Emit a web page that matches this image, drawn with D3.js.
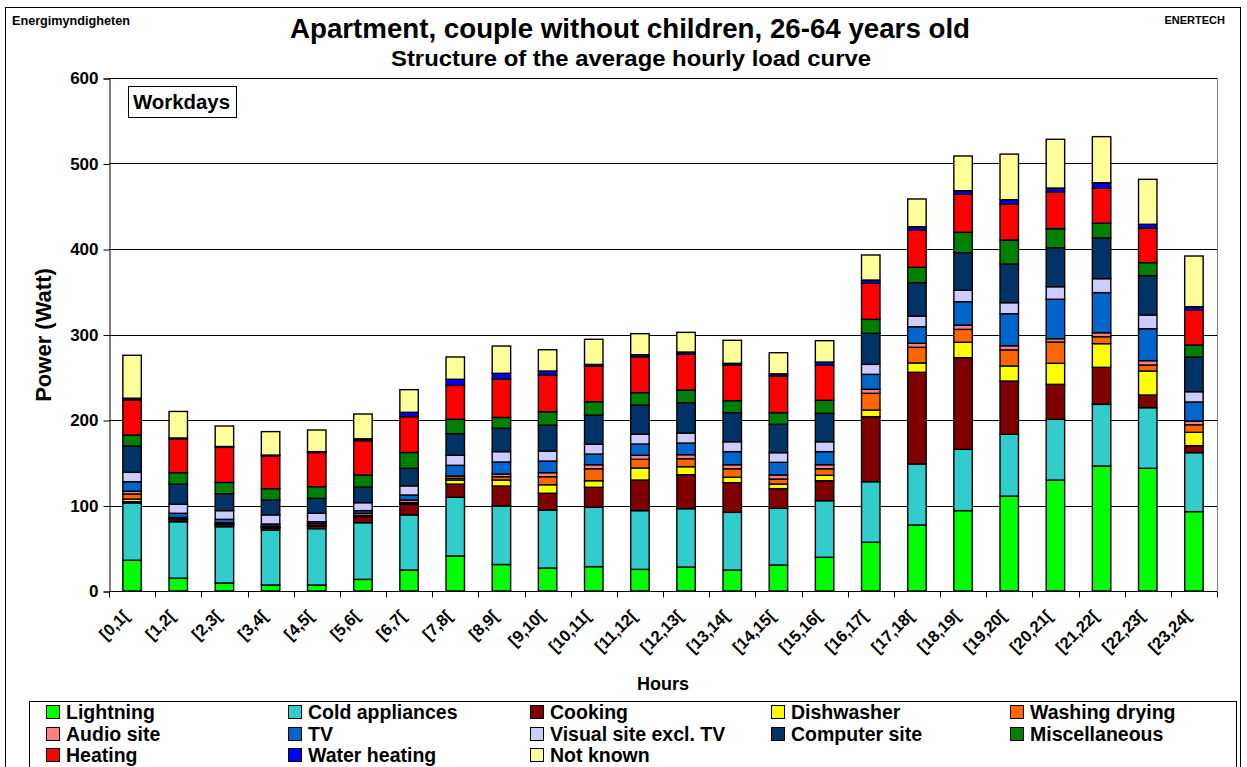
<!DOCTYPE html>
<html><head><meta charset="utf-8">
<script src="https://cdn.jsdelivr.net/npm/d3@7"></script>
<style>
html,body{margin:0;padding:0;background:#fff;}
text{font-family:"Liberation Sans",Arial,sans-serif;font-weight:bold;fill:#000;}
</style></head>
<body>
<svg id="chart" width="1247" height="767"></svg>
<script>
const categories = ["[0,1[","[1,2[","[2,3[","[3,4[","[4,5[","[5,6[","[6,7[","[7,8[","[8,9[","[9,10[","[10,11[","[11,12[","[12,13[","[13,14[","[14,15[","[15,16[","[16,17[","[17,18[","[18,19[","[19,20[","[20,21[","[21,22[","[22,23[","[23,24["];

const lightning  = [36, 15, 9.4, 7, 7, 13.6, 24.6, 41, 31, 26.9, 28.5, 25.3, 28, 24.6, 30.4, 39.4, 57, 77.2, 94, 111, 129.8, 146.2, 143.5, 92.8];
const coldAppliances = [67, 66, 65.8, 64.3, 65.9, 66.3, 64.3, 68.6, 68.4, 67.8, 69.4, 68.7, 68.3, 67.4, 66.3, 66.2, 70.8, 71.3, 71.7, 72.3, 71, 72.1, 70.9, 69];
const cooking    = [1.5, 2.5, 2.5, 2.5, 3, 7.1, 12.5, 15.4, 23.4, 19.6, 23.4, 35.8, 39.7, 34.7, 23, 23.4, 76.1, 107.3, 107.2, 62.3, 40.9, 43.3, 14.8, 8.2];
const dishwasher = [3, 0.5, 0.4, 0.3, 0.3, 0.5, 0.5, 4.8, 7, 10, 7.7, 14.1, 9.4, 6.3, 5.4, 6.3, 7.8, 10.9, 18, 17.6, 24.6, 27.7, 28.1, 15.6];
const washingDrying = [6, 1, 0.5, 0.5, 0.7, 1, 1.5, 2, 3.9, 9.4, 14, 10.1, 9.3, 10, 5.9, 7.7, 19.5, 18.3, 15.1, 18.7, 24.9, 8.2, 7, 8.9];
const audioSite  = [3.3, 1, 1.2, 1.3, 2, 2.5, 3, 2.7, 3.1, 4.7, 4.7, 4.7, 4.7, 4.7, 4.7, 4.7, 4.7, 4.7, 5, 5, 3.9, 4.6, 5.1, 4.3];
const tv         = [11, 4.9, 4, 2.5, 2.1, 3, 5.9, 12.5, 14.1, 13.6, 12.5, 13.2, 13.6, 15.3, 14.8, 15.3, 17.5, 19.4, 27.4, 37.4, 46.1, 46.9, 37.4, 22.3];
const visualSite = [11, 10.5, 10.2, 10.6, 9.9, 9.3, 10.7, 11.7, 12.1, 11.7, 11.4, 11.4, 11.8, 11.6, 11.3, 11.6, 11.7, 12.5, 13.3, 12.9, 14.7, 16.3, 16, 12];
const computerSite = [30.8, 23.6, 19.8, 17.4, 17.5, 18.3, 20.5, 25.3, 27.3, 30.3, 34.2, 34.2, 35.4, 33.9, 33.2, 33.2, 36.3, 39, 44, 45.3, 45.6, 47.6, 46, 40.6];
const miscellaneous = [12.9, 13.4, 13.2, 13.3, 13.6, 14.1, 18.5, 16.8, 12.7, 15.7, 15.6, 14.5, 14.8, 14.1, 13.5, 15.2, 16.3, 18, 23.8, 28, 22.2, 17.2, 15.2, 14];
const heating    = [40.9, 39.6, 41, 38.3, 40, 40.1, 41.9, 39.7, 45, 42.9, 41.6, 42, 41.8, 41.7, 43, 41, 42.2, 43.6, 44.5, 42.1, 43, 40.9, 40.2, 41];
const waterHeating = [2.1, 1, 1, 1, 1, 2.2, 5.1, 7.1, 6.6, 4.7, 2, 2.4, 2.7, 2, 2.5, 3.8, 3.8, 3.8, 4.2, 5.1, 4.6, 6.5, 4.7, 3.8];
const notKnown   = [50.2, 31, 24, 27.4, 25.3, 29, 26.5, 26.1, 31.9, 24.9, 29.4, 24.6, 23, 26.9, 24.7, 25, 29.3, 32.5, 40.6, 53.3, 57, 53.9, 52.6, 59.3];

const seriesNames = ["Lightning","Cold appliances","Cooking","Dishwasher","Washing drying","Audio site","TV","Visual site excl. TV","Computer site","Miscellaneous","Heating","Water heating","Not known"];
const seriesValues = [lightning, coldAppliances, cooking, dishwasher, washingDrying, audioSite, tv, visualSite, computerSite, miscellaneous, heating, waterHeating, notKnown];
const seriesColors = ["#00FF00","#33CCCC","#800000","#FFFF00","#FF6600","#FF8080","#0066CC","#CCCCFF","#003366","#008000","#FF0000","#0000FF","#FFFF99"];
const yTicks = [0,100,200,300,400,500,600];

const svg = d3.select("#chart");
const L = 109, R = 1217, T = 78, B = 591;

// table for stacking
const table = categories.map((c, i) => {
  const row = {cat: c};
  seriesNames.forEach((s, j) => row[s] = seriesValues[j][i]);
  return row;
});
const stacked = d3.stack().keys(seriesNames)(table);

const x = d3.scaleBand().domain(categories).range([L, R]).paddingInner(0.6).paddingOuter(0.3);
const y = d3.scaleLinear().domain([0, 600]).range([B, T]);

// outer border
svg.append("rect").attr("x", 5.5).attr("y", 7.5).attr("width", 1235).attr("height", 800)
  .attr("fill", "none").attr("stroke", "#000").attr("stroke-width", 1);

// titles
svg.append("text").attr("x", 630).attr("y", 38).attr("text-anchor", "middle")
  .attr("font-size", 28).attr("textLength", 680).attr("lengthAdjust", "spacingAndGlyphs")
  .text("Apartment, couple without children, 26-64 years old");
svg.append("text").attr("x", 631).attr("y", 66).attr("text-anchor", "middle")
  .attr("font-size", 22).attr("textLength", 480).attr("lengthAdjust", "spacingAndGlyphs")
  .text("Structure of the average hourly load curve");
svg.append("text").attr("x", 12).attr("y", 25).attr("font-size", 12)
  .attr("textLength", 118).attr("lengthAdjust", "spacingAndGlyphs").text("Energimyndigheten");
svg.append("text").attr("x", 1225).attr("y", 24).attr("font-size", 11).attr("text-anchor", "end")
  .text("ENERTECH");

// gridlines
svg.append("g").selectAll("line").data(yTicks.filter(d => d > 0)).join("line")
  .attr("x1", L).attr("x2", R).attr("y1", d => Math.round(y(d)) + 0.5).attr("y2", d => Math.round(y(d)) + 0.5)
  .attr("stroke", "#000").attr("stroke-width", 1);
// plot right border
svg.append("line").attr("x1", R + 0.5).attr("x2", R + 0.5).attr("y1", T).attr("y2", B)
  .attr("stroke", "#808080").attr("stroke-width", 1);

// bars
const gBars = svg.append("g");
stacked.forEach((layer, j) => {
  gBars.append("g").attr("fill", seriesColors[j]).selectAll("rect").data(layer).join("rect")
    .attr("x", d => x(d.data.cat))
    .attr("width", x.bandwidth())
    .attr("y", d => y(d[1]))
    .attr("height", d => Math.max(0, y(d[0]) - y(d[1])))
    .attr("stroke", "#000").attr("stroke-width", 1.4);
});

// y axis
const yAxis = d3.axisLeft(y).tickValues(yTicks).tickSize(6).tickPadding(5).tickFormat(d3.format("d"));
const gy = svg.append("g").attr("transform", `translate(${L + 0.5},0.5)`).call(yAxis);
gy.selectAll("text").attr("font-size", 17).attr("font-family", "Liberation Sans, Arial, sans-serif").attr("font-weight", "bold");
gy.selectAll("line,path").attr("stroke", "#000");

// x axis with ticks at band boundaries
const gx = svg.append("g").attr("transform", `translate(0,${B + 0.5})`);
gx.append("line").attr("x1", L).attr("x2", R).attr("stroke", "#000");
const step = x.step();
const boundaries = d3.range(categories.length + 1).map(i => L + i * step);
gx.selectAll("line.tk").data(boundaries).join("line").attr("class", "tk")
  .attr("x1", d => Math.round(d) + 0.5).attr("x2", d => Math.round(d) + 0.5).attr("y1", 0).attr("y2", 6)
  .attr("stroke", "#000");
svg.append("g").selectAll("text").data(categories).join("text")
  .attr("text-anchor", "end").attr("font-size", 16.5)
  .attr("transform", d => `translate(${x(d) + x.bandwidth() / 2 - 2},617) rotate(-45)`)
  .text(d => d);

// axis titles
svg.append("text").attr("x", 663).attr("y", 690).attr("text-anchor", "middle").attr("font-size", 18).text("Hours");
svg.append("text").attr("transform", "translate(51,335) rotate(-90)").attr("text-anchor", "middle")
  .attr("font-size", 22).text("Power (Watt)");

// Workdays box
svg.append("rect").attr("x", 128.5).attr("y", 86.5).attr("width", 108).attr("height", 31)
  .attr("fill", "#fff").attr("stroke", "#000");
svg.append("text").attr("x", 133).attr("y", 109).attr("font-size", 20)
  .attr("textLength", 97).attr("lengthAdjust", "spacingAndGlyphs").text("Workdays");

// legend
svg.append("rect").attr("x", 29.5).attr("y", 701.5).attr("width", 1207).attr("height", 100)
  .attr("fill", "#fff").attr("stroke", "#000");
const colX = [46, 288, 530, 771, 1010];
const rowY = [719, 741, 762];
const lg = svg.append("g").selectAll("g").data(seriesNames).join("g")
  .attr("transform", (d, i) => `translate(${colX[i % 5]},${rowY[Math.floor(i / 5)]})`);
lg.append("rect").attr("x", 0.5).attr("y", -13.5).attr("width", 13).attr("height", 13)
  .attr("fill", (d, i) => seriesColors[i]).attr("stroke", "#000");
lg.append("text").attr("x", 20).attr("y", 0).attr("font-size", 19.5).text(d => d);
</script>
</body></html>
